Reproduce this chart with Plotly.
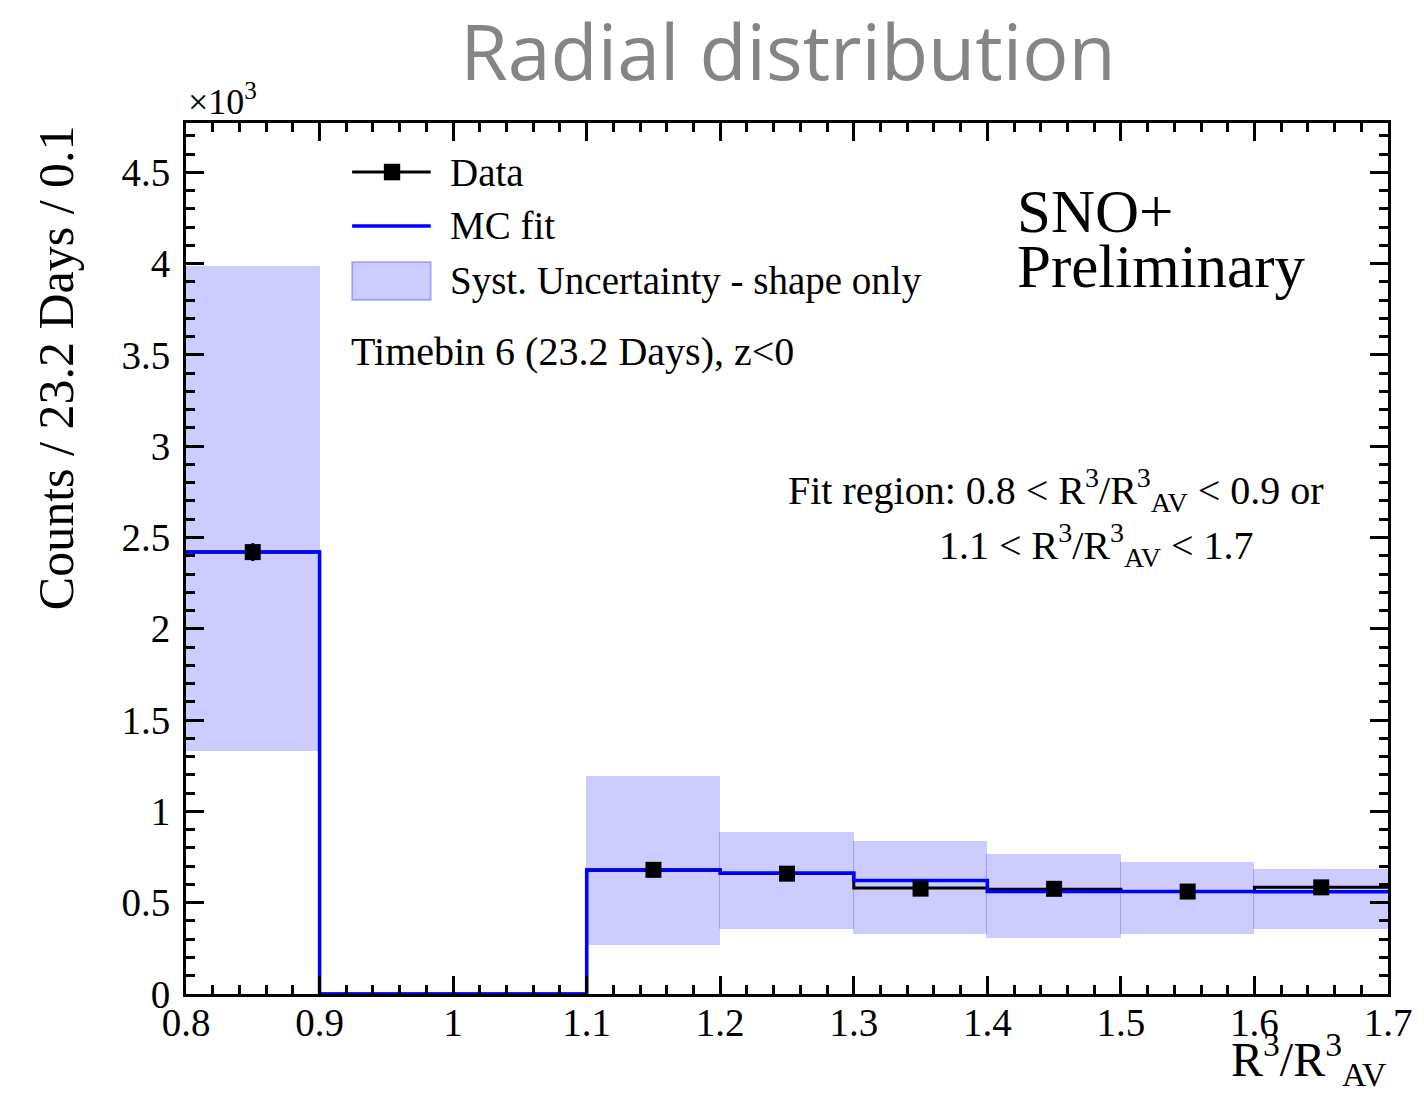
import plotly.graph_objects as go

# ---------------- data (counts in units of 10^3) ----------------
bin_edges = [0.8, 0.9, 1.0, 1.1, 1.2, 1.3, 1.4, 1.5, 1.6, 1.7]
mc_fit = [2.42, 0.0, 0.0, 0.678, 0.662, 0.622, 0.562, 0.561, 0.560]
data_hist = [2.42, 0.0, 0.0, 0.680, 0.660, 0.580, 0.574, 0.561, 0.584]

pt_x = [0.85, 1.15, 1.25, 1.35, 1.45, 1.55, 1.65]
pt_y = [2.42, 0.680, 0.659, 0.577, 0.576, 0.561, 0.584]
pt_err = [0.049, 0.026, 0.026, 0.024, 0.024, 0.024, 0.024]

band_x = [0.85, 1.15, 1.25, 1.35, 1.45, 1.55, 1.65]
band_lo = [1.33, 0.267, 0.354, 0.329, 0.305, 0.327, 0.354]
band_hi = [3.98, 1.19, 0.884, 0.835, 0.763, 0.720, 0.681]

xticks = [0.8, 0.9, 1.0, 1.1, 1.2, 1.3, 1.4, 1.5, 1.6, 1.7]
yticks = [0, 0.5, 1, 1.5, 2, 2.5, 3, 3.5, 4, 4.5]

legend_labels = ["Data", "MC fit", "Syst. Uncertainty - shape only"]

SERIF = "Liberation Serif, Times New Roman, serif"
BAND_FILL = "rgba(0,0,255,0.2)"
BAND_LINE = "rgba(0,0,255,0.12)"

fig = go.Figure()

# Systematic band
fig.add_trace(go.Bar(
    x=band_x, y=[h - l for h, l in zip(band_hi, band_lo)], base=band_lo, width=0.1,
    marker=dict(color=BAND_FILL, line=dict(color=BAND_LINE, width=1)),
    name=legend_labels[2], showlegend=False, hoverinfo="skip"))

# Data histogram step line
fig.add_trace(go.Scatter(
    x=bin_edges, y=data_hist + [data_hist[-1]], mode="lines", line_shape="hv",
    line=dict(color="black", width=3), showlegend=False, hoverinfo="skip"))

# MC fit step line
fig.add_trace(go.Scatter(
    x=bin_edges, y=mc_fit + [mc_fit[-1]], mode="lines", line_shape="hv",
    line=dict(color="#0000ff", width=3.5), name=legend_labels[1], showlegend=False))

# Data points
fig.add_trace(go.Scatter(
    x=pt_x, y=pt_y, mode="markers",
    marker=dict(symbol="square", size=16, color="black"),
    error_y=dict(type="data", array=pt_err, thickness=3, width=0, color="black"),
    name=legend_labels[0], showlegend=False))

axis_common = dict(
    showline=True, linewidth=3, linecolor="black", mirror="ticks",
    ticks="inside", ticklen=18, tickwidth=3, tickcolor="black",
    showgrid=False, zeroline=False,
    tickfont=dict(family=SERIF, size=39, color="black"),
)

fig.update_xaxes(range=[0.8, 1.7], tickvals=xticks, ticktext=[f"{v:g}" for v in xticks],
                 minor=dict(ticks="inside", ticklen=9, tickwidth=3, tickcolor="black", dtick=0.02, tick0=0.8),
                 **axis_common)
fig.update_yaxes(range=[0, 4.77], tickvals=yticks, ticktext=[f"{v:g}" for v in yticks],
                 minor=dict(ticks="inside", ticklen=9, tickwidth=3, tickcolor="black", dtick=0.1, tick0=0),
                 ticklabelstandoff=5, **axis_common)
try:
    fig.update_xaxes(ticklabelstandoff=-8)
except Exception:
    pass

# ---------------- legend (drawn in paper coordinates) ----------------
lx0, lx1, lxm, ltx = 0.1382, 0.2036, 0.1714, 0.2177
ly = [0.9437, 0.8818, 0.8186]
shapes = [
    dict(type="line", xref="paper", yref="paper", x0=lx0, x1=lx1, y0=ly[0], y1=ly[0],
         line=dict(color="black", width=3)),
    dict(type="rect", xref="paper", yref="paper", x0=lxm - 0.0068, x1=lxm + 0.0068,
         y0=ly[0] - 0.0095, y1=ly[0] + 0.0095, fillcolor="black", line=dict(width=0)),
    dict(type="line", xref="paper", yref="paper", x0=lx0, x1=lx1, y0=ly[1], y1=ly[1],
         line=dict(color="#0000ff", width=3.5)),
    dict(type="rect", xref="paper", yref="paper", x0=lx0, x1=lx1, y0=ly[2] - 0.0218, y1=ly[2] + 0.0218,
         fillcolor=BAND_FILL, line=dict(color="rgba(0,0,255,0.25)", width=2)),
]

annots = [
    dict(text=t, x=ltx, y=yy, xref="paper", yref="paper", xanchor="left", yanchor="middle",
         showarrow=False, font=dict(family=SERIF, size=39, color="black"))
    for t, yy in zip(legend_labels, ly)
]

annots += [
    dict(text="×10<sup>3</sup>", x=0.0, y=0.999, xref="paper", yref="paper",
         xanchor="left", yanchor="bottom", showarrow=False,
         font=dict(family=SERIF, size=36, color="black")),
    dict(text="Counts / 23.2 Days / 0.1", x=-0.1084, y=1.0, xref="paper", yref="paper",
         xanchor="center", yanchor="top", textangle=-90, showarrow=False,
         font=dict(family=SERIF, size=50, color="black")),
    dict(text="R<sup>3</sup>/R<sup>3</sup><sub>AV</sub>", x=1.0, y=-0.116, xref="paper", yref="paper",
         xanchor="right", yanchor="bottom", showarrow=False,
         font=dict(family=SERIF, size=48, color="black")),
    dict(text="SNO+", x=0.690, y=0.898, xref="paper", yref="paper",
         xanchor="left", yanchor="middle", showarrow=False,
         font=dict(family=SERIF, size=61, color="black")),
    dict(text="Preliminary", x=0.690, y=0.835, xref="paper", yref="paper",
         xanchor="left", yanchor="middle", showarrow=False,
         font=dict(family=SERIF, size=61, color="black")),
    dict(text="Timebin 6 (23.2 Days), z<0", x=0.136, y=0.738, xref="paper", yref="paper",
         xanchor="left", yanchor="middle", showarrow=False,
         font=dict(family=SERIF, size=40, color="black")),
    dict(text="Fit region: 0.8 < R<sup>3</sup>/R<sup>3</sup><sub>AV</sub> < 0.9 or",
         x=0.499, y=0.579, xref="paper", yref="paper",
         xanchor="left", yanchor="middle", showarrow=False,
         font=dict(family=SERIF, size=40, color="black")),
    dict(text="1.1 < R<sup>3</sup>/R<sup>3</sup><sub>AV</sub> < 1.7",
         x=0.625, y=0.515, xref="paper", yref="paper",
         xanchor="left", yanchor="middle", showarrow=False,
         font=dict(family=SERIF, size=40, color="black")),
]

fig.update_layout(
    width=1424, height=1095,
    margin=dict(l=186, r=30, t=123, b=101),
    paper_bgcolor="white", plot_bgcolor="white",
    title=dict(text="Radial distribution", x=0.5534, xanchor="center", y=0.9516, yanchor="middle",
               yref="container", font=dict(family="Open Sans, Lato, sans-serif", size=77, color="#858585")),
    annotations=annots, shapes=shapes,
    bargap=0, showlegend=False,
)

# remove the browser's default page margin so the figure fills the window exactly
fig.write_html("out.html", config={"displayModeBar": False},
               post_script="document.body.style.margin='0px';")
